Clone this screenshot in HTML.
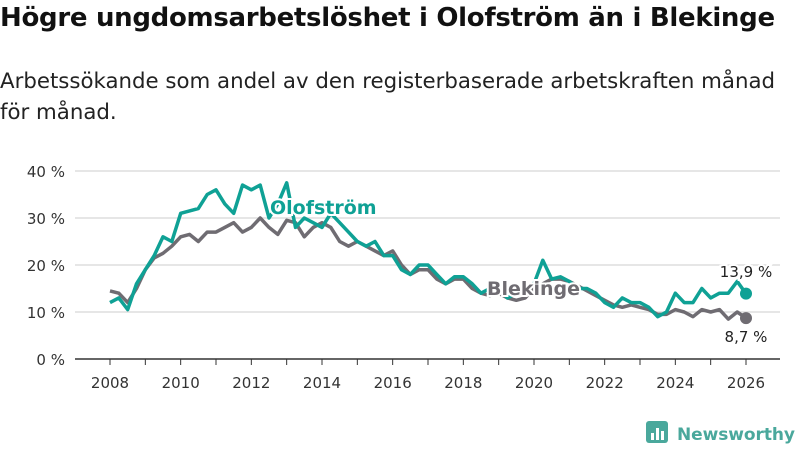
<!DOCTYPE html>
<html><head><meta charset="utf-8"><style>
body{margin:0;background:#fff;font-family:"Liberation Sans","DejaVu Sans",sans-serif;}
#wrap{position:relative;width:800px;height:450px;overflow:hidden}
h1{position:absolute;left:0;top:3px;margin:0;font-size:26px;font-weight:bold;color:#111;font-family:"DejaVu Sans",sans-serif;letter-spacing:-0.3px;white-space:nowrap}
p{position:absolute;left:0;top:66px;margin:0;font-size:21.3px;line-height:31px;color:#222;white-space:nowrap;font-family:"DejaVu Sans",sans-serif;letter-spacing:0px}
</style></head><body><div id="wrap">
<h1>Högre ungdomsarbetslöshet i Olofström än i Blekinge</h1>
<p>Arbetssökande som andel av den registerbaserade arbetskraften månad<br>för månad.</p>
<svg id="c" width="800" height="450" style="position:absolute;left:0;top:0"></svg>
</div>
<script>
const years=[2008,2010,2012,2014,2016,2018,2020,2022,2024,2026];
const yTicks=[0,10,20,30,40];
const yTickLabels=["0 %","10 %","20 %","30 %","40 %"];
const startYear=2008;
const olofstrom=[12,13,10.5,16,19,22,26,25,31,31.5,32,35,36,33,31,37,36,37,30,33,37.5,28,30,29,28,31,29,27,25,24,25,22,22,19,18,20,20,18,16,17.5,17.5,16,14,15,15,13,14,15,16,21,17,17.5,16.5,15,15,14,12,11,13,12,12,11,9,10,14,12,12,15,13,14,14,16.5,13.9];
const blekinge=[14.5,14,12,15,19,21.5,22.5,24,26,26.5,25,27,27,28,29,27,28,30,28,26.5,29.5,29,26,28,29,28,25,24,25,24,23,22,23,20,18,19,19,17,16,17,17,15,14,13.5,14,13,12.5,13,15,16,17,17,16.5,15.5,14.5,13.5,12.5,11.5,11,11.5,11,10.5,9.5,9.5,10.5,10,9,10.5,10,10.5,8.5,10,8.7];
const NS="http://www.w3.org/2000/svg";
const svg=document.getElementById('c');
const x=t=>110+(t-2008)*(636/18);
const y=v=>359-v*4.7;
function mk(tag,a){const e=document.createElementNS(NS,tag);for(const k in a)e.setAttribute(k,a[k]);svg.appendChild(e);return e;}
yTicks.forEach((v,i)=>{
 if(v>0){const g=mk('line',{x1:75,x2:780,y1:y(v),y2:y(v),stroke:'#ddd','stroke-width':1.5});
 
 }
 const t=mk('text',{x:65,y:y(v)+6,'text-anchor':'end','font-size':15,fill:'#333','font-family':'DejaVu Sans,sans-serif'});t.textContent=yTickLabels[i];
 
 
});
const ax=mk('line',{x1:75,x2:780,y1:359,y2:359,stroke:'#333','stroke-width':1.5});


for(let yr=2008;yr<=2026;yr++){mk('line',{x1:x(yr),x2:x(yr),y1:359,y2:365,stroke:'#333','stroke-width':1});}
years.forEach(yr=>{const t=mk('text',{x:x(yr),y:388,'text-anchor':'middle','font-size':15,fill:'#333','font-family':'DejaVu Sans,sans-serif'});t.textContent=yr;
 
 });
function line(d,col,name){const pts=d.map((v,i)=>x(startYear+i/4).toFixed(1)+','+y(v).toFixed(1)).join(' ');
 const l=mk('polyline',{points:pts,fill:'none',stroke:col,'stroke-width':3.5,'stroke-linejoin':'round'});
 
 
 const n=d.length-1;const c=mk('circle',{cx:x(startYear+n/4),cy:y(d[n]),r:6,fill:col});
 
 }
line(blekinge,'#6f6c72','blekinge');
line(olofstrom,'#0fa195','olofstrom');
function lab(txt,xx,yy,col,name,anchor,size,w){
 const t=mk('text',{x:xx,y:yy,'text-anchor':anchor||'start','font-size':size||19,'font-weight':w||'bold',fill:col,stroke:'#fff','stroke-width':4,'paint-order':'stroke','font-family':'DejaVu Sans,sans-serif'});t.textContent=txt;
 
 }
lab('Olofström',270,214,'#0fa195','series-label-olofstrom');
lab('Blekinge',487,295,'#6f6c72','series-label-blekinge');
lab('13,9 %',746,277,'#222','end-value-olofstrom','middle',15,'normal');
lab('8,7 %',746,342,'#222','end-value-blekinge','middle',15,'normal');
const g=mk('rect',{x:646,y:421,width:22,height:22,rx:3,fill:'#4aa89c'});


[[651,433,3,7],[656,428,3,12],[661,431,3,9]].forEach(b=>mk('rect',{x:b[0],y:b[1],width:b[2],height:b[3],fill:'#fff'}));
const lt=mk('text',{x:677,y:440,'font-size':17,'font-weight':'bold',fill:'#4aa89c','font-family':'DejaVu Sans,sans-serif',textLength:118});lt.textContent='Newsworthy';


</script></body></html>
